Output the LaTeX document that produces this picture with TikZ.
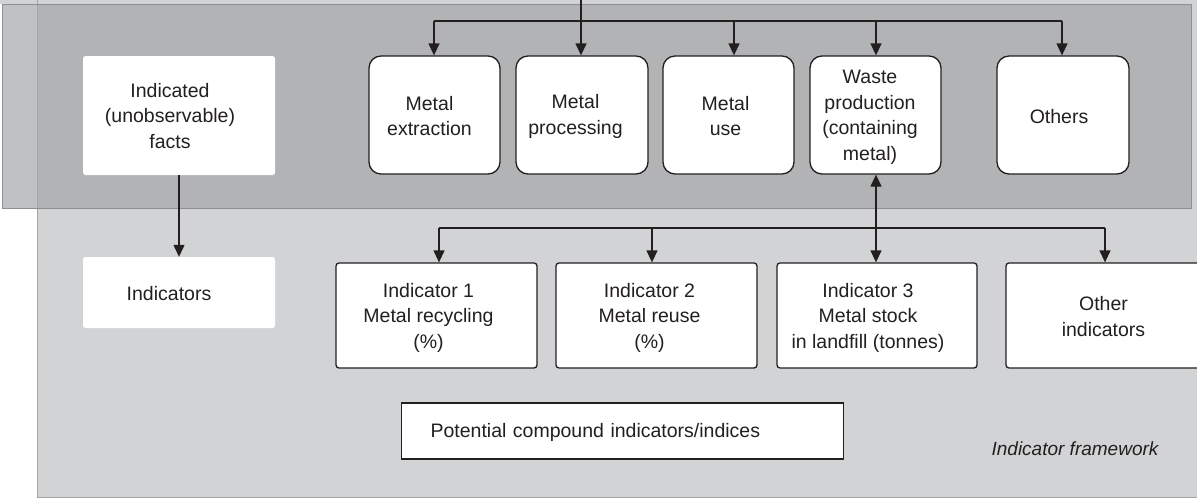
\documentclass[tikz,border=0pt]{standalone}
\usepackage{fontspec}
\setmainfont{Liberation Sans}
\usetikzlibrary{arrows.meta}
\definecolor{ink}{HTML}{231F20}
\definecolor{lightbg}{HTML}{D2D3D5}
\definecolor{darkbg}{HTML}{A6A7A9}
\definecolor{edgegray}{HTML}{8E8F91}
% #1 = lowering, #2 = right pad (shifts text left by half), #3 = text
\newcommand{\lowtxt}[3]{\raisebox{-#1}[\height][\depth]{\begin{tabular}{@{}c@{}}#3\end{tabular}\hspace*{#2}}}
\tikzset{
  txt/.style={font=\fontsize{19.5}{25.5}\selectfont, text=ink, align=center},
  stagebox/.style={txt, draw=ink, line width=1.3pt, fill=white, rounded corners=12pt,
     minimum width=131pt, minimum height=118pt, inner sep=0pt},
  plainbox/.style={txt, fill=white, rounded corners=2.5pt, minimum width=192pt, inner sep=0pt},
  indbox/.style={txt, draw=ink, line width=1.3pt, fill=white, rounded corners=3pt,
     minimum height=105pt, inner sep=0pt},
  conn/.style={draw=ink, line width=1.3pt},
  arr/.style={conn, -{Triangle[width=11pt,length=12pt]}},
  darr/.style={conn, {Triangle[width=11pt,length=12pt]}-{Triangle[width=11pt,length=12pt]}},
}
\begin{document}
\begin{tikzpicture}[x=1pt,y=-1pt]
\useasboundingbox (0,0) rectangle (1197,498);
% backgrounds
\fill[lightbg] (0,0) rectangle (37,4);
\draw[draw=edgegray!80, fill=lightbg, line width=0.8pt] (37,-5) rectangle (1210,497);
\draw[draw=edgegray, fill=darkbg, fill opacity=0.71, line width=1pt] (2,4) rectangle (1191,208);

% left column
\node[plainbox, minimum height=119pt] (facts) at (179,115.5) {\lowtxt{2pt}{18pt}{Indicated\\(unobservable)\\facts}};
\node[plainbox, minimum height=71pt] (inds) at (179,292.5) {\lowtxt{3pt}{20pt}{Indicators}};

% stage boxes
\node[stagebox] (ext)    at (434.5,115) {\lowtxt{3pt}{10pt}{Metal\\extraction}};
\node[stagebox, minimum width=132pt] (proc) at (582,115) {\lowtxt{1.5pt}{13pt}{Metal\\processing}};
\node[stagebox] (use)    at (728.5,115) {\lowtxt{3pt}{6pt}{Metal\\use}};
\node[stagebox] (waste)  at (875.5,115) {\lowtxt{2pt}{11pt}{Waste\\production\\(containing\\metal)}};
\node[stagebox, minimum width=132pt] (others) at (1063,115) {\lowtxt{3pt}{8pt}{Others}};

% indicator boxes
\node[indbox, minimum width=201pt] (ind1) at (436.5,315.5) {\lowtxt{2pt}{16pt}{Indicator 1\\Metal recycling\\(\%)}};
\node[indbox, minimum width=201pt] (ind2) at (656.5,315.5) {\lowtxt{2pt}{14pt}{Indicator 2\\Metal reuse\\(\%)}};
\node[indbox, minimum width=200pt] (ind3) at (877,315.5) {\lowtxt{2pt}{18pt}{Indicator 3\\Metal stock\\in landfill (tonnes)}};
\node[indbox, minimum width=195pt] (oind) at (1103.5,315.5) {\lowtxt{3pt}{0pt}{Other\\indicators}};

% compound box
\node[txt, draw=ink, line width=1.2pt, fill=white, anchor=west, minimum height=56pt,
      minimum width=442pt, text width=384pt, inner xsep=29pt, inner ysep=0pt, align=left]
      (comp) at (401,431) {\raisebox{-1pt}[\height][\depth]{Potential compound indicators/indices}};

\node[txt, font=\fontsize{19}{24}\selectfont\itshape] (frame) at (1075,449) {Indicator framework};

% top bus
\coordinate (src) at (581,0);
\coordinate (tl) at (434,21);
\coordinate (tr) at (1062,21);
\draw[conn] (tl) -- (tr);
\draw[conn] (src) -- (581,21);
\draw[arr] (tl) -- (ext.north -| tl);
\draw[arr] (581,21) -- (proc.north -| src);
\draw[arr] (734,21) -- ([xshift=5.5pt]use.north);
\draw[arr] (876,21) -- ([xshift=0.5pt]waste.north);
\draw[arr] (tr) -- (others.north -| tr);

% left arrow
\draw[arr] (facts.south) -- (inds.north);

% lower bus
\coordinate (bl) at (439,228);
\coordinate (bm) at (652,228);
\coordinate (br) at (1105,228);
\draw[conn] (bl) -- (br);
\draw[arr] (bl) -- (ind1.north -| bl);
\draw[arr] (bm) -- (ind2.north -| bm);
\draw[arr] (br) -- (oind.north -| br);
\draw[darr] ([xshift=0.5pt]waste.south) -- (ind3.north -| 876,0);
\end{tikzpicture}
\end{document}
